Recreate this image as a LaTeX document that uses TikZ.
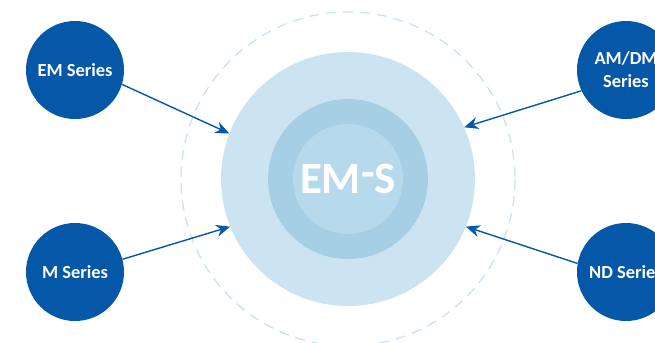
\documentclass[tikz,border=0pt]{standalone}
\usepackage{fontspec}
\setmainfont{Carlito}
\usetikzlibrary{arrows.meta}
\definecolor{seriesblue}{HTML}{0557A8}
\definecolor{ringouter}{HTML}{CCE4F1}
\definecolor{ringmid}{HTML}{A6CFE6}
\definecolor{ringinner}{HTML}{B6DAEC}
\definecolor{ringdash}{HTML}{C8E0F0}
\tikzset{
  series/.style={circle, fill=seriesblue, minimum size=98bp, inner sep=0pt,
    text=white, font=\bfseries\fontsize{18.5}{23}\selectfont, align=center},
  feed/.style={-{Stealth[length=14bp,width=12bp]}, line width=1.4bp, seriesblue}
}
\begin{document}
\begin{tikzpicture}[x=1bp, y=-1bp]
    \useasboundingbox (0,0) rectangle (655,342);

    % 外圈虚线
    \draw[ringdash, line width=1.2bp, dash pattern=on 10bp off 7bp] (348,179) circle (167);

    % 中心同心圆
    \node[circle, fill=ringouter, minimum size=254bp, inner sep=0pt] (outer) at (348,179) {};
    \node[circle, fill=ringmid, minimum size=160bp, inner sep=0pt] (mid) at (348,179) {};
    \node[circle, fill=ringinner, minimum size=110bp, inner sep=0pt, text=white,
      font=\bfseries\fontsize{45}{50}\selectfont] (core) at (348,179)
      {EM\raisebox{6bp}{-}S};

    % 四个系列
    \node[series] (em) at (75,70) {EM Series};
    \node[series] (m) at (75,272) {M Series};
    \node[series] (amdm) at (626,70) {AM/DM\\Series};
    \node[series] (nd) at (626,272) {ND Series};

    % 箭头指向中心
    \draw[feed] (em.-17) -- (outer.159);
    \draw[feed] (m.15) -- (outer.202);
    \draw[feed] (amdm.205) -- (outer.24);
    \draw[feed] (nd.170) -- (outer.-22);
\end{tikzpicture}
\end{document}
